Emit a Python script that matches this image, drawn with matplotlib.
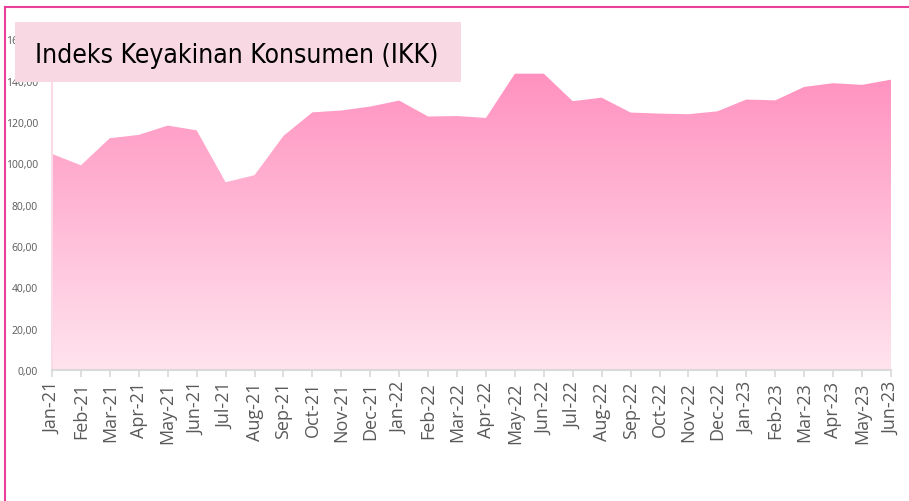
import numpy as np
import matplotlib.pyplot as plt
from matplotlib.colors import LinearSegmentedColormap
from matplotlib.patches import Rectangle
from matplotlib.lines import Line2D

months = ["Jan-21", "Feb-21", "Mar-21", "Apr-21", "May-21", "Jun-21", "Jul-21", "Aug-21",
          "Sep-21", "Oct-21", "Nov-21", "Dec-21", "Jan-22", "Feb-22", "Mar-22", "Apr-22",
          "May-22", "Jun-22", "Jul-22", "Aug-22", "Sep-22", "Oct-22", "Nov-22", "Dec-22",
          "Jan-23", "Feb-23", "Mar-23", "Apr-23", "May-23", "Jun-23"]
ikk = [104.5, 99.0, 112.1, 113.7, 118.2, 115.9, 90.8, 94.2,
       113.2, 124.6, 125.5, 127.4, 130.3, 122.6, 122.8, 121.9,
       143.3, 143.3, 130.0, 131.7, 124.5, 124.0, 123.7, 125.1,
       130.8, 130.4, 136.9, 138.7, 137.9, 140.4]
yticks = [0, 20, 40, 60, 80, 100, 120, 140, 160]

fig = plt.figure(figsize=(9.09, 5.02), dpi=100)
ax = fig.add_axes([0.0572, 0.261, 0.923, 0.659])

x = np.arange(len(months))
poly = ax.fill_between(x, ikk, 0, color="none", lw=0)

# gradient fill clipped to the area shape
cmap = LinearSegmentedColormap.from_list("pinkgrad", ["#FFE4EE", "#FF88BA"])
grad = np.linspace(0, 1, 256).reshape(-1, 1)
img = ax.imshow(grad, extent=[0, len(months) - 1, 0, 160], origin="lower",
                aspect="auto", cmap=cmap, zorder=1)
img.set_clip_path(poly.get_paths()[0], transform=ax.transData)

ax.set_xlim(0, len(months) - 1)
ax.set_ylim(0, 160)
ax.set_xticks(x)
ax.set_xticklabels(months, rotation=90, fontsize=13, color="#595959", family="Open Sans")
ax.set_yticks(yticks)
ax.set_yticklabels([f"{v:.2f}".replace(".", ",") for v in yticks], fontsize=7.5, color="#595959",
                   family="Open Sans")
ax.tick_params(axis="y", length=0, pad=10)
ax.tick_params(axis="x", length=5, color="#d9d9d9", width=1.2, pad=3)

for s in ["top", "right"]:
    ax.spines[s].set_visible(False)
ax.spines["left"].set_color("#fadbe7")
ax.spines["left"].set_linewidth(1.5)
ax.spines["bottom"].set_color("#d9d9d9")
ax.spines["bottom"].set_linewidth(1.5)

# pink frame (top + left only)
fig.add_artist(Line2D([5 / 909, 1], [1 - 8 / 502, 1 - 8 / 502], color="#E8409A", lw=1.5))
fig.add_artist(Line2D([5 / 909, 5 / 909], [0, 1 - 8 / 502], color="#E8409A", lw=1.5))

# title box
fig.add_artist(Rectangle((15 / 909, 1 - 83 / 502), 446 / 909, 60 / 502,
                         facecolor="#F7D8E3", edgecolor="none", zorder=5))
fig.text(237 / 909, 1 - 56 / 502, "Indeks Keyakinan Konsumen (IKK)",
         family="DejaVu Sans", fontstretch="condensed", fontsize=19,
         ha="center", va="center", color="black", zorder=6)

fig.savefig("out.png", dpi=100)
